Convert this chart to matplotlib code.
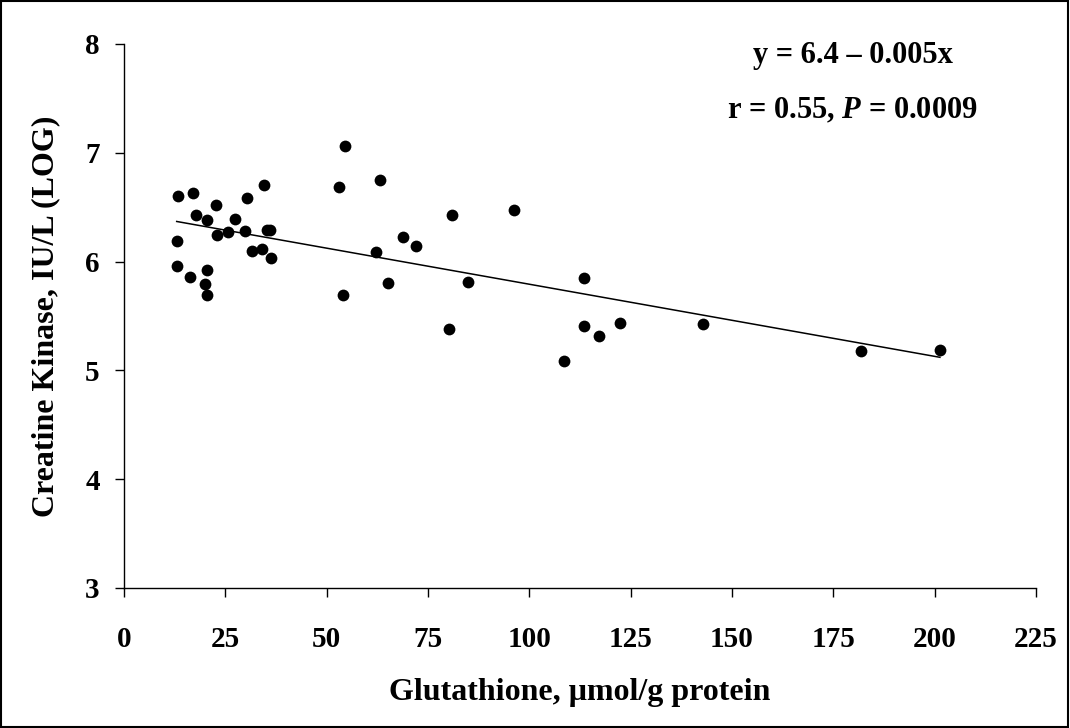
import matplotlib
matplotlib.use("Agg")
import matplotlib.pyplot as plt
from matplotlib.patches import Rectangle
import numpy as np

plt.rcParams['font.family'] = ['Liberation Serif', 'DejaVu Serif']
plt.rcParams['font.weight'] = 'bold'
plt.rcParams['mathtext.fontset'] = 'custom'
plt.rcParams['mathtext.it'] = 'Liberation Serif:bold:italic'
plt.rcParams['mathtext.rm'] = 'Liberation Serif:bold'

glutathione = [13.3, 17.1, 17.8, 22.8, 20.5, 13.0, 22.9, 25.7, 27.4, 30.3,
               29.9, 34.5, 35.2, 36.0, 31.7, 34.0, 36.2, 13.0, 16.2, 20.6,
               20.1, 20.6, 54.6, 53.1, 63.2, 54.0, 62.2, 68.9, 72.0, 65.1,
               80.9, 96.3, 84.9, 80.2, 113.6, 113.6, 122.4, 117.2, 108.6, 142.9,
               181.9, 201.3]
creatine_kinase = [6.60, 6.63, 6.43, 6.52, 6.38, 6.19, 6.24, 6.27, 6.39, 6.58,
                   6.28, 6.70, 6.29, 6.29, 6.10, 6.12, 6.03, 5.96, 5.86, 5.92,
                   5.79, 5.69, 7.06, 6.69, 6.75, 5.69, 6.09, 6.23, 6.14, 5.80,
                   6.43, 6.47, 5.81, 5.38, 5.85, 5.41, 5.44, 5.32, 5.09, 5.43,
                   5.18, 5.19]
fit_coef = [-0.00663, 6.455]  # slope, intercept of drawn regression line
x_ticks = [0, 25, 50, 75, 100, 125, 150, 175, 200, 225]
y_ticks = [3, 4, 5, 6, 7, 8]

fig = plt.figure(figsize=(10.70, 7.28), dpi=100)
ax = fig.add_axes([124/1070, 140/728, 912/1070, 544/728])

ax.scatter(glutathione, creatine_kinase, s=72, color='black', zorder=3, linewidths=0)
xs = np.array([min(glutathione), max(glutathione)])
ax.plot(xs, np.polyval(fit_coef, xs), color='black', lw=1.1, zorder=2)

ax.set_xlim(0, 225)
ax.set_ylim(3, 8)
ax.set_xticks(x_ticks)
ax.set_yticks(y_ticks)
ax.spines['top'].set_visible(False)
ax.spines['right'].set_visible(False)
for s in ['left', 'bottom']:
    ax.spines[s].set_linewidth(1.0)
ax.tick_params(axis='both', direction='out', length=6.5, width=1.0, labelsize=21)
ax.tick_params(axis='x', pad=21)
ax.tick_params(axis='y', pad=11)
for lab in ax.get_xticklabels() + ax.get_yticklabels():
    lab.set_fontweight('bold')

ax.set_xlabel('Glutathione, μmol/g protein', fontsize=23, fontweight='bold', labelpad=18)
ax.set_ylabel('Creatine Kinase, IU/L (LOG)', fontsize=23, fontweight='bold', labelpad=18)

ax.text(853/1070, 1-63/728, 'y = 6.4 – 0.005x', transform=fig.transFigure,
        ha='center', va='baseline', fontsize=22, fontweight='bold')
ax.text(852/1070, 1-118/728, 'r = 0.55, $P$ = 0.0009', transform=fig.transFigure,
        ha='center', va='baseline', fontsize=22, fontweight='bold')

fig.patches.append(Rectangle((1/1070, 1/728), 1067/1070, 726/728,
                             transform=fig.transFigure, fill=False, edgecolor='black', lw=1.5))

fig.savefig('out.png', dpi=100)
